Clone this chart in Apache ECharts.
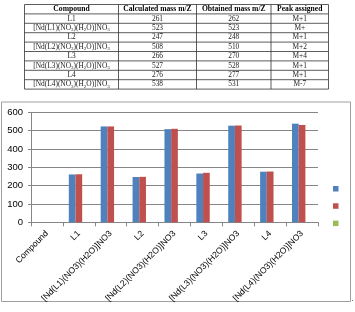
<!DOCTYPE html>
<html>
<head>
<meta charset="utf-8">
<script src="https://cdn.jsdelivr.net/npm/echarts@6/dist/echarts.min.js"></script>
<style>
    html, body { margin: 0; padding: 0; background: #fff; }
    #main { width: 355px; height: 312px; }
</style>
</head>
<body>
<div id="main"></div>
<script>
// data of the table (top) and the bar chart (bottom)
var tableHeader = ['Compound', 'Calculated mass m/Z', 'Obtained mass m/Z', 'Peak assigned'];
var compounds = ['L1', '[Nd(L1)(NO3)(H2O)]NO3', 'L2', '[Nd(L2)(NO3)(H2O)]NO3',
    'L3', '[Nd(L3)(NO3)(H2O)]NO3', 'L4', '[Nd(L4)(NO3)(H2O)]NO3'];
var calculatedMass = [261, 523, 247, 508, 266, 527, 276, 538];
var obtainedMass = [262, 523, 248, 510, 270, 528, 277, 531];
var peakAssigned = ['M+1', 'M+', 'M+1', 'M+2', 'M+4', 'M+1', 'M+1', 'M-7'];

// chart categories: first one is the header cell, it has no bars
var categories = ['Compound'].concat(compounds);
var seriesNames = ['Calculated mass m/Z', 'Obtained mass m/Z', 'Peak assigned'];
var yTicks = { min: 0, max: 600, step: 100 };

var colors = ['#4F81BD', '#C0504D', '#9BBB59'];

var chart = echarts.init(document.getElementById('main'));

// ---- table drawn as graphic elements ----
var colX = [24.5, 118.5, 196.5, 271, 328.5];
var rowTop = 4.5;
var rowH = 9.4;

function subscriptName(name) {
    // NO3 -> NO{s|3}, H2O -> H{s|2}O
    return name.replace(/(NO|H)(\d)/g, '$1{s|$2}');
}

function buildTable() {
    var els = [];
    var nRows = compounds.length + 1;
    var tableBottom = rowTop + nRows * rowH;
    for (var r = 0; r <= nRows; r++) {
        var y = rowTop + r * rowH;
        els.push({
            type: 'line',
            shape: { x1: colX[0], y1: y, x2: colX[colX.length - 1], y2: y },
            style: { stroke: '#333', lineWidth: 0.8 },
            silent: true
        });
    }
    for (var c = 0; c < colX.length; c++) {
        els.push({
            type: 'line',
            shape: { x1: colX[c], y1: rowTop, x2: colX[c], y2: tableBottom },
            style: { stroke: '#333', lineWidth: 0.8 },
            silent: true
        });
    }
    // header
    for (var h = 0; h < tableHeader.length; h++) {
        els.push({
            type: 'text',
            x: (colX[h] + colX[h + 1]) / 2,
            y: rowTop + rowH / 2,
            style: {
                text: tableHeader[h],
                fontFamily: 'Liberation Serif',
                fontWeight: 'bold',
                fontSize: 7.6,
                fill: '#000',
                align: 'center',
                verticalAlign: 'middle'
            },
            silent: true
        });
    }
    // body rows
    for (var i = 0; i < compounds.length; i++) {
        var cy = rowTop + (i + 1.5) * rowH;
        var cells = [subscriptName(compounds[i]), String(calculatedMass[i]), String(obtainedMass[i]), peakAssigned[i]];
        for (var k = 0; k < cells.length; k++) {
            els.push({
                type: 'text',
                x: (colX[k] + colX[k + 1]) / 2,
                y: cy,
                style: {
                    text: cells[k],
                    fontFamily: 'Liberation Serif',
                    fontSize: 7.4,
                    lineHeight: 9,
                    fill: '#222',
                    align: 'center',
                    verticalAlign: 'middle',
                    rich: {
                        s: { fontSize: 5, lineHeight: 5, verticalAlign: 'bottom', fontFamily: 'Liberation Serif', fill: '#222' }
                    }
                },
                silent: true
            });
        }
    }
    return els;
}

var graphics = buildTable();
// chart frame
graphics.push({
    type: 'rect',
    shape: { x: 1.5, y: 102, width: 349, height: 199.5 },
    style: { fill: 'none', stroke: '#a0a0a0', lineWidth: 1 },
    silent: true,
    z: -10
});
graphics.push({
    type: 'text',
    x: 351.5,
    y: 295,
    style: { text: '.', fontSize: 8, fill: '#000', fontFamily: 'Liberation Serif' },
    silent: true
});

function barData(values) {
    // first category ("Compound") is empty
    return ['-'].concat(values);
}

var option = {
    animation: false,
    graphic: graphics,
    grid: { left: 31, right: 37, top: 112.3, bottom: 89.7 },
    legend: {
        orient: 'vertical',
        left: 333,
        top: 186,
        padding: 0,
        itemWidth: 5.5,
        itemHeight: 5.5,
        itemGap: 11.8,
        icon: 'rect',
        formatter: function () { return ''; },
        textStyle: { fontSize: 5 },
        data: seriesNames
    },
    xAxis: {
        type: 'category',
        data: categories,
        axisLine: { lineStyle: { color: '#868686' } },
        axisTick: { show: true, length: 4, lineStyle: { color: '#868686' } },
        axisLabel: {
            interval: 0,
            rotate: 45,
            margin: 10,
            fontSize: 8.6,
            color: '#000',
            fontFamily: 'Liberation Sans'
        }
    },
    yAxis: {
        type: 'value',
        min: yTicks.min,
        max: yTicks.max,
        interval: yTicks.step,
        axisLine: { show: true, lineStyle: { color: '#868686' } },
        axisTick: { show: true, length: 3, lineStyle: { color: '#868686' } },
        splitLine: { lineStyle: { color: '#868686' } },
        axisLabel: { fontSize: 9.5, color: '#000', margin: 8, fontFamily: 'Liberation Sans' }
    },
    series: [{
        name: seriesNames[0],
        type: 'bar',
        data: barData(calculatedMass),
        itemStyle: { color: colors[0] },
        barGap: '0%',
        barCategoryGap: '37%'
    }, {
        name: seriesNames[1],
        type: 'bar',
        data: barData(obtainedMass),
        itemStyle: { color: colors[1] }
    }, {
        name: seriesNames[2],
        type: 'bar',
        data: categories.map(function () { return '-'; }),
        itemStyle: { color: colors[2] }
    }]
};

chart.setOption(option);
</script>
</body>
</html>
